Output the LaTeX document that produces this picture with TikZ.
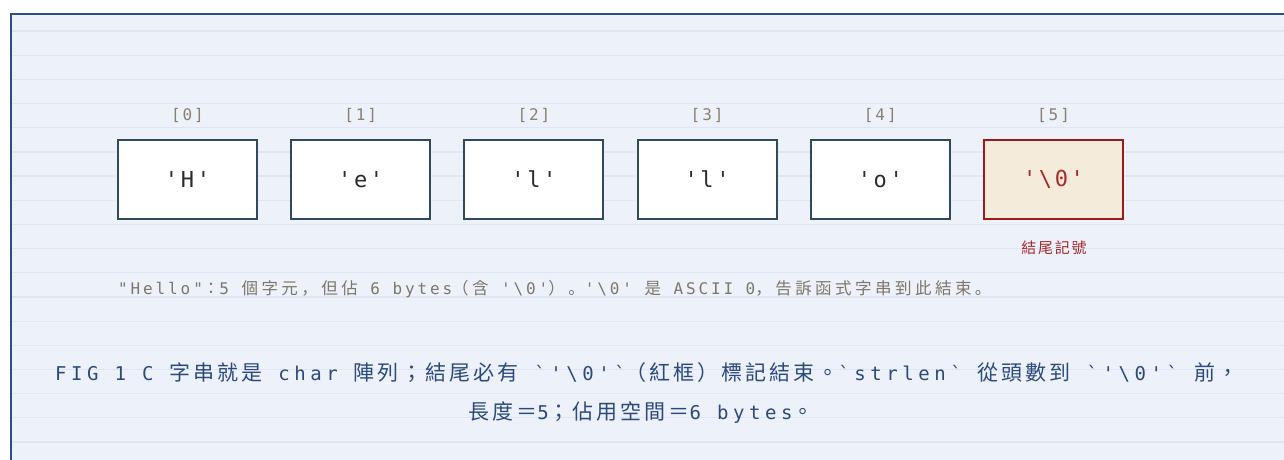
\documentclass[tikz,border=0pt]{standalone}
\usepackage{fontspec}
\newfontfamily\monoA[LetterSpace=12]{DejaVu Sans Mono}
\newfontfamily\cjkA[LetterSpace=12]{Noto Sans CJK TC}
\newfontfamily\monoN[LetterSpace=18]{DejaVu Sans Mono}
\newfontfamily\cjkN[LetterSpace=21]{Noto Sans CJK JP}
\newfontfamily\monoC[LetterSpace=24]{DejaVu Sans Mono}
\newfontfamily\cjkC[LetterSpace=14]{Noto Sans CJK TC}
\newcommand\nc[1]{{\fontsize{16.5}{20}\selectfont\cjkN #1}}
\newcommand\cc[1]{{\fontsize{21}{25}\selectfont\cjkC #1}}
\definecolor{bgfill}{HTML}{EDF1FA}
\definecolor{gridc}{HTML}{DFE5F2}
\definecolor{framec}{HTML}{2E4D80}
\definecolor{boxc}{HTML}{2F4A5C}
\definecolor{boxtxt}{HTML}{2B2B2B}
\definecolor{idxc}{HTML}{8A8070}
\definecolor{redc}{HTML}{9B1B1B}
\definecolor{redfill}{HTML}{F5EBDA}
\definecolor{redtxt}{HTML}{A52A2A}
\definecolor{notec}{HTML}{7D776C}
\definecolor{capcol}{HTML}{2B4A7A}
\tikzset{
  cellbox/.style={draw=boxc, line width=2pt, fill=white, minimum width=139pt, minimum height=79pt, inner sep=0pt,
    text=boxtxt, font={\fontsize{22}{26}\selectfont\monoA}},
  endcell/.style={cellbox, draw=redc, fill=redfill, text=redtxt},
  idxlbl/.style={text=idxc, font={\fontsize{16}{20}\selectfont\monoA}, inner sep=0pt},
  notetxt/.style={text=notec, font={\fontsize{16}{20}\selectfont\monoN}, inner sep=0pt, anchor=west},
  captxt/.style={text=capcol, font={\fontsize{19}{24}\selectfont\monoC}, inner sep=0pt}
}
\begin{document}
\begin{tikzpicture}[x=1pt,y=-1pt]
\useasboundingbox (0,0) rectangle (1284,460);
\fill[white] (0,0) rectangle (1284,460);
\fill[bgfill] (10,13) rectangle (1284,460);
\foreach \k in {0,...,17} {
  \draw[gridc, line width=1.2pt] (11,31+24.18*\k) -- (1284,31+24.18*\k);
}
\draw[framec, line width=2pt] (11,460) -- (11,14) -- (1284,14);
% cells
\foreach \i/\c in {0/{'H'},1/{'e'},2/{'l'},3/{'l'},4/{'o'}} {
  \node[cellbox] (c\i) at (187.5+173.2*\i,179.5) {\c};
  \node[idxlbl] (i\i) at (187.5+173.2*\i,115) {[\i]};
}
\node[endcell] (c5) at (1053.5,179.5) {'\textbackslash0'};
\node[idxlbl] (i5) at (1053.5,115) {[5]};
\node[text=redtxt, font={\fontsize{15}{18}\selectfont\cjkA}, inner sep=0pt] (endlbl) at (1054,248) {結尾記號};
% note
\node[notetxt] (note) at (118,289) {"Hello"\nc{：}5 \nc{個字元，但佔} 6 bytes\nc{（含} '\textbackslash0'\nc{）。}'\textbackslash0' \nc{是} ASCII 0\nc{，告訴函式字串到此結束。}};
% caption
\node[captxt, anchor=west] (cap1) at (55,373) {FIG 1 C \cc{字串就是} char \cc{陣列；結尾必有} `'\textbackslash0'`\cc{（紅框）標記結束。}`strlen` \cc{從頭數到} `'\textbackslash0'` \cc{前，}};
\node[captxt] (cap2) at (641,413) {\cc{長度＝}5\cc{；佔用空間＝}6 bytes\cc{。}};
\end{tikzpicture}
\end{document}
